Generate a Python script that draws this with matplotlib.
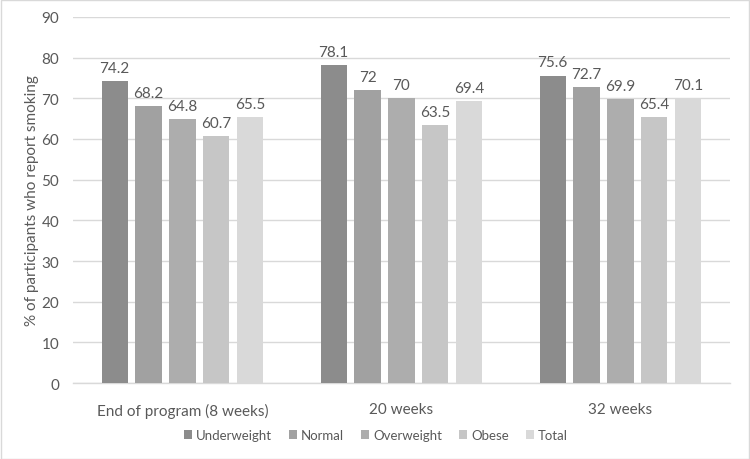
import matplotlib
matplotlib.use("Agg")
import matplotlib.pyplot as plt
import numpy as np

categories = ["End of program (8 weeks)", "20 weeks", "32 weeks"]
series_names = ["Underweight", "Normal", "Overweight", "Obese", "Total"]
underweight = [74.2, 78.1, 75.6]
normal = [68.2, 72, 72.7]
overweight = [64.8, 70, 69.9]
obese = [60.7, 63.5, 65.4]
total = [65.5, 69.4, 70.1]
series_values = [underweight, normal, overweight, obese, total]
value_labels = [["74.2", "78.1", "75.6"], ["68.2", "72", "72.7"], ["64.8", "70", "69.9"],
                ["60.7", "63.5", "65.4"], ["65.5", "69.4", "70.1"]]
colors = ["#8c8c8c", "#a1a1a1", "#adadad", "#c6c6c6", "#d9d9d9"]

plt.rcParams['font.family'] = ['Lato', 'DejaVu Sans']
txt = "#595959"

fig = plt.figure(figsize=(7.5, 4.6), dpi=100)
ax = fig.add_axes([0.0973, 0.1652, 0.876, 0.7957])

x = np.arange(len(categories))
step = 0.155
width = 0.119
for i, (name, vals) in enumerate(zip(series_names, series_values)):
    pos = x + (i - 2) * step
    ax.bar(pos, vals, width=width, color=colors[i], label=name, zorder=3)
    for p, v, lab in zip(pos, vals, value_labels[i]):
        ax.text(p, v + 1.5, lab, ha="center", va="bottom", fontsize=11, color=txt)

ax.set_xlim(-0.5, 2.5)
ax.set_ylim(0, 90)
ax.set_yticks(range(0, 91, 10))
ax.set_xticks(x)
ax.set_xticklabels(categories)
ax.grid(axis="y", color="#d9d9d9", linewidth=1, zorder=0)
for s in ["top", "right", "left"]:
    ax.spines[s].set_visible(False)
ax.spines["bottom"].set_color("#d9d9d9")
ax.spines["bottom"].set_linewidth(1)
ax.tick_params(axis="both", length=0, colors=txt, labelsize=11)
ax.tick_params(axis="x", pad=14)
ax.tick_params(axis="y", pad=10)
ax.set_ylabel("% of participants who report smoking", fontsize=11, color=txt, labelpad=2)

leg = fig.legend(loc="center", bbox_to_anchor=(0.501, 0.052), ncol=5, frameon=False,
                 fontsize=9.5, handlelength=0.6, handleheight=0.6, handletextpad=0.3,
                 columnspacing=1.3, labelcolor=txt)

border = plt.Rectangle((0.001, 0.001), 0.997, 0.997, transform=fig.transFigure,
                       fill=False, edgecolor="#d9d9d9", linewidth=1)
fig.patches.append(border)

fig.savefig("out.png", dpi=100)
